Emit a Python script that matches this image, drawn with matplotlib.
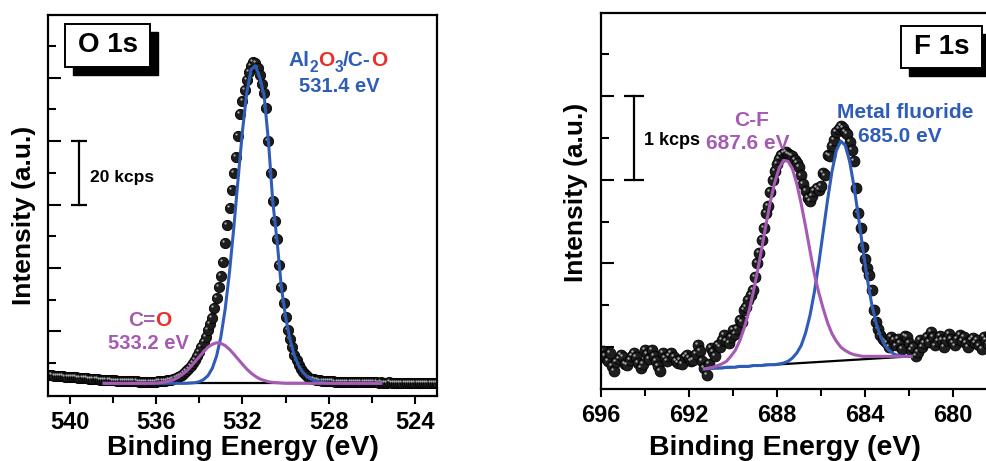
import numpy as np
import matplotlib
matplotlib.use("Agg")
import matplotlib.pyplot as plt
import matplotlib.transforms as mtransforms
from matplotlib.patches import Rectangle

plt.rcParams['font.family'] = ['Liberation Sans', 'DejaVu Sans']
plt.rcParams['font.weight'] = 'bold'

BLUE = '#2f5cb6'
PURPLE = '#a65ab3'
RED = '#e8302a'

# ---- O 1s (kcps), 0.1 eV steps from 541.0 to 523.0
o1s_energy = np.linspace(541.0, 523.0, 181)
o1s_counts = [
    6.2, 6.1, 6.2, 6.0, 6.0, 5.9, 5.9, 5.8, 5.7, 5.7,
    5.6, 5.6, 5.5, 5.5, 5.4, 5.3, 5.3, 5.2, 5.2, 5.1,
    5.0, 5.0, 4.9, 4.9, 4.8, 4.8, 4.7, 4.7, 4.6, 4.6,
    4.5, 4.5, 4.4, 4.4, 4.4, 4.3, 4.3, 4.3, 4.2, 4.2,
    4.2, 4.2, 4.1, 4.1, 4.1, 4.1, 4.1, 4.1, 4.1, 4.1,
    4.1, 4.2, 4.2, 4.3, 4.4, 4.5, 4.6, 4.8, 5.0, 5.2,
    5.5, 5.8, 6.2, 6.8, 7.5, 8.2, 9.0, 9.9, 11.0, 12.1,
    13.4, 15.0, 16.5, 18.2, 20.5, 22.4, 24.3, 27.4, 30.5, 34.0,
    37.5, 41.9, 47.8, 53.5, 59.0, 64.5, 70.0, 75.0, 81.5, 88.5,
    92.8, 96.1, 99.2, 101.8, 103.6, 105.0, 104.6, 103.0, 100.8, 98.0,
    95.3, 90.5, 80.0, 70.0, 61.0, 54.8, 49.0, 41.0, 34.0, 28.8,
    24.5, 20.4, 17.6, 15.0, 12.6, 10.8, 9.4, 8.2, 7.3, 6.5,
    5.8, 5.4, 5.1, 4.9, 4.7, 4.6, 4.5, 4.4, 4.3, 4.3,
    4.2, 4.2, 4.2, 4.1, 4.1, 4.1, 4.1, 4.0, 4.0, 4.0,
    4.0, 4.0, 4.0, 3.9, 3.9, 4.0, 3.9, 3.9, 3.9, 3.9,
    3.9, 3.9, 3.9, 3.8, 3.9, 3.8, 3.8, 3.8, 3.9, 3.8,
    3.8, 3.8, 3.8, 3.8, 3.8, 3.8, 3.7, 3.8, 3.8, 3.7,
    3.8, 3.7, 3.7, 3.8, 3.7, 3.7, 3.7, 3.7, 3.8, 3.7, 3.7,
]
# fitted components, 0.2 eV steps from 538.4 to 525.6
o1s_fit_energy = np.linspace(538.4, 525.6, 65)
o1s_al2o3 = [
    3.6, 3.6, 3.6, 3.6, 3.6, 3.6, 3.6, 3.6, 3.6, 3.6,
    3.6, 3.6, 3.6, 3.6, 3.6, 3.6, 3.6, 3.6, 3.6, 3.6,
    3.7, 3.8, 4.1, 4.8, 6.0, 8.3, 12.2, 18.3, 27.1, 38.8,
    52.9, 68.4, 83.3, 95.4, 102.6,
    103.8, 100.0, 94.5, 80.0, 61.0, 48.5, 33.8, 24.3, 17.4, 12.4,
    9.2, 7.0, 5.6, 4.8, 4.3, 4.0, 3.8, 3.7,
    3.6, 3.6, 3.6, 3.6, 3.6, 3.6, 3.6, 3.6, 3.6, 3.6, 3.6, 3.6,
]
o1s_c_eq_o = [
    3.6, 3.6, 3.6, 3.6, 3.6, 3.6, 3.6, 3.6, 3.6, 3.6, 3.6, 3.6,
    3.7, 3.8, 4.0, 4.3, 4.7, 5.4, 6.3, 7.4, 8.8, 10.4,
    12.0, 13.6, 15.0, 15.9, 16.4, 16.2, 15.5, 14.3, 12.8, 11.2,
    9.6, 8.1, 6.8, 5.8, 5.0, 4.5, 4.1, 3.9, 3.8, 3.7,
    3.6, 3.6, 3.6, 3.6, 3.6, 3.6, 3.6, 3.6, 3.6, 3.6, 3.6, 3.6,
    3.6, 3.6, 3.6, 3.6, 3.6, 3.6, 3.6, 3.6, 3.6, 3.6, 3.6,
]
o1s_bg_energy = [538.4, 525.6]
o1s_bg = [3.6, 3.6]

# ---- F 1s (kcps), 0.1 eV steps from 696.0 to 677.6
f1s_energy = np.linspace(696.0, 677.6, 185)
f1s_counts = [
    0.38, 0.45, 0.40, 0.33, 0.43, 0.28, 0.21, 0.32, 0.36, 0.41,
    0.38, 0.30, 0.29, 0.35, 0.40, 0.43, 0.38, 0.31, 0.25, 0.30,
    0.47, 0.42, 0.36, 0.47, 0.39, 0.33, 0.28, 0.21, 0.43, 0.37,
    0.33, 0.40, 0.43, 0.38, 0.34, 0.31, 0.35, 0.30, 0.38, 0.41,
    0.37, 0.33, 0.35, 0.42, 0.53, 0.45, 0.33, 0.25, 0.17, 0.30,
    0.49, 0.44, 0.40, 0.53, 0.50, 0.58, 0.64, 0.57, 0.55, 0.62,
    0.70, 0.66, 0.72, 0.82, 0.80, 0.94, 0.98, 1.06, 1.12, 1.18,
    1.34, 1.50, 1.62, 1.78, 1.92, 2.10, 2.18, 2.35, 2.50, 2.60,
    2.69, 2.75, 2.79, 2.82, 2.83, 2.81, 2.80, 2.78, 2.74, 2.70,
    2.65, 2.55, 2.45, 2.36, 2.28, 2.25, 2.30, 2.36, 2.40, 2.38,
    2.43, 2.58, 2.55, 2.80, 2.78, 2.90, 2.97, 3.07, 3.10, 3.14,
    3.12, 3.07, 3.04, 2.95, 2.85, 2.72, 2.40, 2.10, 1.92, 1.70,
    1.55, 1.45, 1.36, 1.18, 0.94, 0.80, 0.72, 0.65, 0.60, 0.57,
    0.55, 0.50, 0.62, 0.58, 0.52, 0.60, 0.55, 0.48, 0.63, 0.62,
    0.55, 0.47, 0.50, 0.39, 0.44, 0.58, 0.50, 0.55, 0.62, 0.56,
    0.68, 0.62, 0.52, 0.57, 0.63, 0.58, 0.50, 0.58, 0.66, 0.60,
    0.55, 0.52, 0.60, 0.64, 0.57, 0.62, 0.55, 0.50, 0.58, 0.61,
    0.55, 0.59, 0.52, 0.48, 0.62, 0.58, 0.54, 0.66, 0.60, 0.53,
    0.58, 0.63, 0.55, 0.60, 0.57,
]
# fitted components, 0.2 eV steps from 691.3 to 681.9
f1s_fit_energy = np.linspace(691.3, 681.9, 48)
f1s_metal_fluoride = [
    0.24, 0.24, 0.25, 0.25, 0.25, 0.26, 0.26, 0.26, 0.27, 0.27,
    0.27, 0.28, 0.28, 0.28, 0.29, 0.29, 0.29, 0.30, 0.31, 0.33,
    0.37, 0.43, 0.52, 0.67, 0.88, 1.16, 1.50, 1.88, 2.26, 2.60,
    2.85, 2.96, 2.91, 2.72, 2.42, 2.06, 1.68, 1.32, 1.02, 0.79,
    0.63, 0.52, 0.46, 0.42, 0.40, 0.39, 0.39, 0.39,
]
f1s_c_f = [
    0.24, 0.25, 0.26, 0.28, 0.30, 0.33, 0.39, 0.46, 0.57, 0.72,
    0.90, 1.13, 1.39, 1.67, 1.96, 2.24, 2.47, 2.64, 2.73, 2.72,
    2.63, 2.45, 2.21, 1.94, 1.65, 1.37, 1.15, 0.96, 0.79, 0.66,
    0.57, 0.50, 0.46, 0.43, 0.41, 0.40, 0.39, 0.39, 0.39, 0.39,
    0.39, 0.39, 0.39, 0.39, 0.39, 0.39, 0.39, 0.39,
]
f1s_bg_energy = [691.3, 681.9]
f1s_bg = [0.24, 0.39]

W, H = 986, 461
fig = plt.figure(figsize=(W / 100, H / 100), dpi=100)
renderer = fig.canvas.get_renderer()


def px_rect(x0, y0, x1, y1):
    # pixel box measured from the top-left corner -> figure fraction
    return [x0 / W, 1 - y1 / H, (x1 - x0) / W, (y1 - y0) / H]


def spheres(ax, x, y, ms):
    ax.plot(x, y, 'o', ms=ms, mfc='#1e1e1e', mec='black', mew=0.6, zorder=2)
    hl = mtransforms.offset_copy(ax.transData, fig=fig, x=-1.4, y=1.4, units='points')
    ax.plot(x, y, 'o', ms=ms * 0.22, mfc='#aaaaaa', mec='none', transform=hl, zorder=2.1)


def style_axes(ax, xmaj, xmin, ymaj, ymin):
    ax.set_xticks(xmaj)
    ax.set_xticks(xmin, minor=True)
    ax.set_yticks(ymaj)
    ax.set_yticks(ymin, minor=True)
    ax.set_yticklabels([])
    ax.tick_params(axis='x', which='both', direction='out', width=1.5, labelsize=17, pad=5)
    ax.tick_params(axis='x', which='major', length=6)
    ax.tick_params(axis='x', which='minor', length=5)
    ax.tick_params(axis='y', which='both', direction='in', width=1.5)
    ax.tick_params(axis='y', which='major', length=9)
    ax.tick_params(axis='y', which='minor', length=5.5)
    for s in ax.spines.values():
        s.set_linewidth(1.6)
    for lab in ax.get_xticklabels():
        lab.set_fontweight('bold')


def colored_label(pieces, xc, y_base, size):
    # pieces: (text, colour, subscript?) laid out left to right, centred on xc
    items = []
    for t, c, sub in pieces:
        fs = size * 0.75 if sub else size
        txt = fig.text(0, 0, t, color=c, fontsize=fs, fontweight='bold',
                       ha='left', va='baseline')
        wpx = txt.get_window_extent(renderer).width
        items.append((txt, wpx, sub))
    total = sum(w for _, w, _ in items)
    x = xc - total / 2
    for txt, wpx, sub in items:
        yb = y_base + (size * 0.3 * 1.389 if sub else 0)
        txt.set_position((x / W, 1 - yb / H))
        x += wpx


def title_box(x0, y0, x1, y1, text):
    fig.add_artist(Rectangle(((x0 + 8) / W, 1 - (y1 + 8) / H), (x1 - x0) / W, (y1 - y0) / H,
                             transform=fig.transFigure, facecolor='black',
                             edgecolor='black', zorder=5))
    fig.add_artist(Rectangle((x0 / W, 1 - y1 / H), (x1 - x0) / W, (y1 - y0) / H,
                             transform=fig.transFigure, facecolor='white',
                             edgecolor='black', lw=1.4, zorder=6))
    fig.text((x0 + x1) / 2 / W, 1 - (y0 + y1) / 2 / H, text, ha='center', va='center',
             fontsize=20, fontweight='bold', zorder=7)


# ---------------- O 1s panel
ax1 = fig.add_axes(px_rect(48, 15, 437, 396))
spheres(ax1, o1s_energy, o1s_counts, 7.4)
ax1.plot(o1s_bg_energy, o1s_bg, color='black', lw=1.6, zorder=3)
ax1.plot(o1s_fit_energy, o1s_al2o3, color=BLUE, lw=2.2, zorder=4)
ax1.plot(o1s_fit_energy, o1s_c_eq_o, color=PURPLE, lw=2.2, zorder=5)
ax1.set_xlim(541, 523)
ax1.set_ylim(-0.4, 119.8)
style_axes(ax1, [540, 536, 532, 528, 524], [538, 534, 530, 526],
           [20, 40, 60, 80, 100], [10, 30, 50, 70, 90, 110])

# 20 kcps scale bar
ax1.plot([539.55, 539.55], [60, 80], color='black', lw=1.6)
ax1.plot([539.55, 539.55], [60, 80], ls='none', marker='_', ms=11, mew=1.6, color='black')
ax1.text(539.07, 68.4, '20 kcps', ha='left', va='center', fontsize=12.5, fontweight='bold')

title_box(65, 24, 150, 67, 'O 1s')
colored_label([('Al', BLUE, False), ('2', BLUE, True), ('O', RED, False),
               ('3', BLUE, True), ('/C-', BLUE, False), ('O', RED, False)], 338, 66, 15)
fig.text(339 / W, 1 - 87 / H, '531.4 eV', color=BLUE, ha='center', va='center',
         fontsize=14.5, fontweight='bold')
colored_label([('C=', PURPLE, False), ('O', RED, False)], 150, 325.5, 15)
fig.text(148 / W, 1 - 343 / H, '533.2 eV', color=PURPLE, ha='center', va='center',
         fontsize=14.5, fontweight='bold')

fig.text(242.5 / W, 1 - 448 / H, 'Binding Energy (eV)', ha='center', va='center',
         fontsize=20.5, fontweight='bold')
fig.text(24.5 / W, 1 - 215 / H, 'Intensity (a.u.)', rotation=90, ha='center',
         va='center', fontsize=19, fontweight='bold')

# ---------------- F 1s panel
ax2 = fig.add_axes(px_rect(601, 13, 1008, 389))
spheres(ax2, f1s_energy, f1s_counts, 7.8)
ax2.plot(f1s_bg_energy, f1s_bg, color='black', lw=1.6, zorder=3)
ax2.plot(f1s_fit_energy, f1s_metal_fluoride, color=BLUE, lw=2.2, zorder=4)
ax2.plot(f1s_fit_energy, f1s_c_f, color=PURPLE, lw=2.2, zorder=5)
ax2.set_xlim(696, 677.5)
ax2.set_ylim(0, 4.49)
style_axes(ax2, [696, 692, 688, 684, 680], [694, 690, 686, 682, 678],
           [0.5, 1.5, 2.5, 3.5], [1.0, 2.0, 3.0, 4.0])

# 1 kcps scale bar
ax2.plot([694.5, 694.5], [2.5, 3.5], color='black', lw=1.6)
ax2.plot([694.5, 694.5], [2.5, 3.5], ls='none', marker='_', ms=14.5, mew=1.6, color='black')
ax2.text(694.05, 2.97, '1 kcps', ha='left', va='center', fontsize=13, fontweight='bold')

title_box(901, 26, 982, 68, 'F 1s')
fig.text(752 / W, 1 - 121 / H, 'C-F', color=PURPLE, ha='center', va='center',
         fontsize=15, fontweight='bold')
fig.text(748 / W, 1 - 143 / H, '687.6 eV', color=PURPLE, ha='center', va='center',
         fontsize=15, fontweight='bold')
fig.text(905 / W, 1 - 112 / H, 'Metal fluoride', color=BLUE, ha='center', va='center',
         fontsize=15, fontweight='bold')
fig.text(900 / W, 1 - 136 / H, '685.0 eV', color=BLUE, ha='center', va='center',
         fontsize=15, fontweight='bold')

fig.text(785 / W, 1 - 448 / H, 'Binding Energy (eV)', ha='center', va='center',
         fontsize=20.5, fontweight='bold')
fig.text(576.5 / W, 1 - 192.5 / H, 'Intensity (a.u.)', rotation=90, ha='center',
         va='center', fontsize=19, fontweight='bold')

fig.savefig('out.png', dpi=100)
